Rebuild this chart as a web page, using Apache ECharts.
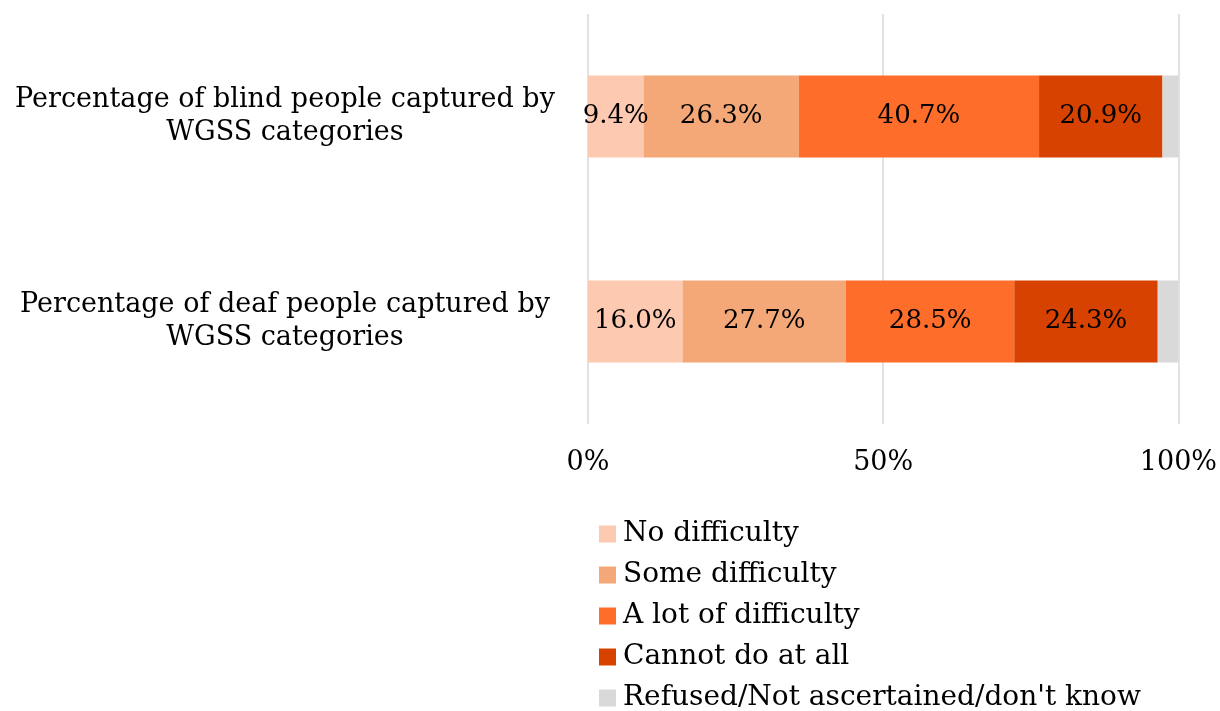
<!DOCTYPE html>
<html>
<head>
<meta charset="utf-8">
<script src="https://cdn.jsdelivr.net/npm/echarts@6/dist/echarts.min.js"></script>
<style>
  html, body { margin: 0; padding: 0; background: #fff; }
  #chart { width: 1220px; height: 711px; }
</style>
</head>
<body>
<div id="chart"></div>
<script>
const categories = [
  'Percentage of blind people captured by\nWGSS categories',
  'Percentage of deaf people captured by\nWGSS categories'
]
const seriesNames = ['No difficulty', 'Some difficulty', 'A lot of difficulty', 'Cannot do at all', "Refused/Not ascertained/don't know"]
const noDifficulty = [9.4, 16.0]
const someDifficulty = [26.3, 27.7]
const aLotOfDifficulty = [40.7, 28.5]
const cannotDo = [20.9, 24.3]
const refused = [2.7, 3.5]
const xTicks = [0, 50, 100]

const colors = ['#fdc9b0', '#f4a877', '#ff6d2a', '#d84200', '#d9d9d9']
const fontFamily = 'DejaVu Serif, serif'
const values = [noDifficulty, someDifficulty, aLotOfDifficulty, cannotDo, refused]

const chart = echarts.init(document.getElementById('chart'))

chart.setOption({
  animation: false,
  textStyle: { fontFamily, color: '#000' },
  grid: { left: 588, right: 40, top: 14, bottom: 287 },
  legend: {
    orient: 'vertical',
    left: 594,
    top: 514,
    height: 200,
    itemWidth: 17,
    itemHeight: 17,
    itemGap: 11,
    icon: 'rect',
    textStyle: { fontSize: 28, color: '#000', fontFamily, lineHeight: 30, padding: [0, 0, 0, 2] },
    data: seriesNames
  },
  xAxis: {
    type: 'value',
    min: xTicks[0],
    max: xTicks[xTicks.length - 1],
    interval: 50,
    axisLine: { show: false },
    axisTick: { show: false },
    splitLine: { lineStyle: { color: '#d9d9d9', width: 1.5 } },
    axisLabel: { fontSize: 27, color: '#000', margin: 25, formatter: (v) => v + '%' }
  },
  yAxis: {
    type: 'category',
    inverse: true,
    data: categories,
    axisLine: { show: false },
    axisTick: { show: false },
    axisLabel: { fontSize: 27, color: '#000', align: 'center', margin: 303, lineHeight: 33 }
  },
  series: seriesNames.map((name, i) => ({
    name,
    type: 'bar',
    stack: 'total',
    barWidth: '40%',
    data: values[i],
    itemStyle: { color: colors[i] },
    label: {
      show: i < 4,
      position: 'inside',
      color: '#000',
      fontSize: 26,
      fontFamily,
      formatter: (p) => p.value.toFixed(1) + '%'
    }
  }))
})
</script>
</body>
</html>
